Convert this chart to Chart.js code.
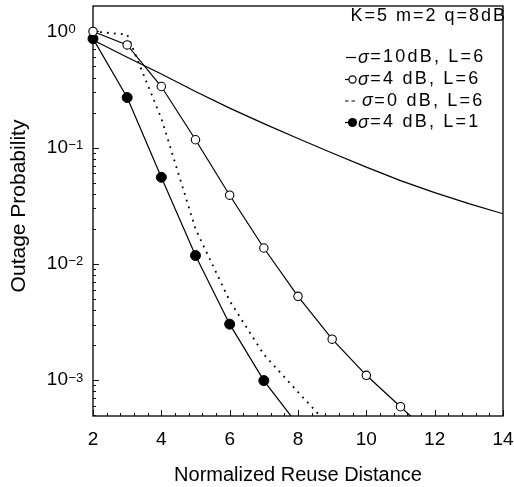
<!DOCTYPE html>
<html>
<head>
<meta charset="utf-8">
<script src="https://cdn.jsdelivr.net/npm/chart.js@4"></script>
<style>
  body { margin: 0; background: #fff; }
  #wrap { width: 514px; height: 487px; }
</style>
</head>
<body>
<div id="wrap"><canvas id="outage-chart" width="514" height="487"></canvas></div>
<script>
// normalized reuse distance (x) for every curve
const distance = [2, 3, 4, 5, 6, 7, 8, 9, 10, 11, 12, 13, 14];

// outage probability
const sigma10L6 = [0.845, 0.60, 0.43, 0.304, 0.219, 0.161, 0.12, 0.090, 0.068, 0.052, 0.041, 0.033, 0.027];
const sigma4L6 = [1.0, 0.766, 0.336, 0.117, 0.039, 0.0137, 0.00526, 0.00225, 0.0011, 0.00059, 0.000316];
const sigma0L6 = [1.0, 0.94, 0.179, 0.020, 0.0048, 0.00166, 0.00079, 0.00038];
const sigma4L1 = [0.867, 0.27, 0.0556, 0.0118, 0.00303, 0.00099, 0.00041];

// the last points of these curves sit below the axis, only the line reaches the edge
const visibleMarks4L6 = 10;
const visibleMarks4L1 = 6;

const xTickLabels = [2, 4, 6, 8, 10, 12, 14];
const yTickExponents = ["0", "-1", "-2", "-3"];

const headerText = "K=5 m=2 q=8dB";
const legendTexts = ["=10dB, L=6", "=4 dB, L=6", "=0 dB, L=6", "=4 dB, L=1"];

const FONT = '"Liberation Sans", Arial, Helvetica, sans-serif';

function toPoints(values) {
  return values.map((v, i) => ({ x: distance[i], y: v }));
}

function markRadius(values, shown, r) {
  return values.map((v, i) => (i < shown ? r : 0));
}

// box, inward ticks, tick labels, titles and the legend block
const paperAxes = {
  id: "paperAxes",
  beforeDatasetsDraw(chart) {
    const { ctx, chartArea: a, scales: { x, y } } = chart;
    ctx.save();
    ctx.strokeStyle = "#111";
    ctx.lineWidth = 1.4;
    ctx.strokeRect(a.left, a.top, a.right - a.left, a.bottom - a.top);

    ctx.lineWidth = 1;
    ctx.beginPath();
    for (let i = 0; i <= 30; i++) {
      const px = Math.round(x.getPixelForValue(2 + i * 0.4)) + 0.5;
      const len = i % 5 === 0 ? 6 : 3;
      ctx.moveTo(px, a.bottom);
      ctx.lineTo(px, a.bottom - len);
    }
    for (let d = -4; d <= 0; d++) {
      for (let k = 1; k <= 9; k++) {
        const v = k * Math.pow(10, d);
        if (v < y.min || v > y.max) continue;
        const py = Math.round(y.getPixelForValue(v)) + 0.5;
        const len = k === 1 ? 6 : 3;
        ctx.moveTo(a.left, py);
        ctx.lineTo(a.left + len, py);
      }
    }
    ctx.stroke();
    ctx.restore();
  },
  afterDraw(chart) {
    const { ctx, chartArea: a, scales: { x, y } } = chart;
    ctx.save();
    ctx.fillStyle = "#000";

    // x tick labels
    ctx.font = "19px " + FONT;
    ctx.textAlign = "center";
    ctx.textBaseline = "middle";
    xTickLabels.forEach((v) => {
      ctx.fillText(String(v), x.getPixelForValue(v), 440);
    });

    // y tick labels as 10 with a raised exponent
    yTickExponents.forEach((e) => {
      const ty = y.getPixelForValue(Math.pow(10, Number(e)));
      ctx.font = "19px " + FONT;
      ctx.textAlign = "right";
      ctx.textBaseline = "middle";
      ctx.fillText("10", 68, ty);
      ctx.font = "13px " + FONT;
      ctx.textAlign = "left";
      ctx.textBaseline = "alphabetic";
      ctx.fillText(e.replace("-", "\u2212"), 68.5, ty + 1.5);
    });

    // axis titles
    ctx.font = "20px " + FONT;
    ctx.textAlign = "center";
    ctx.textBaseline = "middle";
    ctx.fillText("Normalized Reuse Distance", (a.left + a.right) / 2, 475);
    ctx.save();
    ctx.translate(19, 206);
    ctx.rotate(-Math.PI / 2);
    ctx.font = "21px " + FONT;
    ctx.fillText("Outage Probability", 0, 0);
    ctx.restore();

    // legend block
    ctx.font = "18px " + FONT;
    ctx.letterSpacing = "2px";
    ctx.textAlign = "right";
    ctx.fillText(headerText, 507, 16);

    const rows = [57.5, 79.5, 101, 122.5];
    ctx.strokeStyle = "#000";
    ctx.lineWidth = 1.2;
    rows.forEach((ry, i) => {
      ctx.beginPath();
      if (i === 0) {
        ctx.moveTo(346, ry); ctx.lineTo(356, ry);
        ctx.stroke();
      } else if (i === 1) {
        ctx.moveTo(345, ry); ctx.lineTo(349, ry);
        ctx.stroke();
        ctx.beginPath();
        ctx.arc(352.5, ry, 3.6, 0, Math.PI * 2);
        ctx.fillStyle = "#fff"; ctx.fill();
        ctx.stroke();
        ctx.fillStyle = "#000";
      } else if (i === 2) {
        ctx.moveTo(345, ry); ctx.lineTo(348.5, ry);
        ctx.moveTo(351.5, ry); ctx.lineTo(355, ry);
        ctx.stroke();
      } else {
        ctx.moveTo(345, ry); ctx.lineTo(349, ry);
        ctx.stroke();
        ctx.beginPath();
        ctx.arc(352.5, ry, 4.6, 0, Math.PI * 2);
        ctx.fill();
      }
      ctx.textAlign = "left";
      ctx.letterSpacing = "0px";
      ctx.font = "italic 18px " + FONT;
      const sx = i === 2 ? 362 : 358;
      ctx.fillText("\u03c3", sx, ry);
      const w = ctx.measureText("\u03c3").width;
      ctx.font = "18px " + FONT;
      ctx.letterSpacing = "2.2px";
      ctx.fillText(legendTexts[i], sx + w + 1.5, ry);
    });
    ctx.restore();
  },
};

new Chart(document.querySelector("#outage-chart").getContext("2d"), {
  type: "line",
  data: {
    datasets: [
      {
        label: "sigma=10dB, L=6",
        data: toPoints(sigma10L6),
        borderColor: "#000",
        borderWidth: 1.2,
        pointRadius: 0,
        tension: 0,
      },
      {
        label: "sigma=4 dB, L=6",
        data: toPoints(sigma4L6),
        borderColor: "#000",
        borderWidth: 1.2,
        pointRadius: markRadius(sigma4L6, visibleMarks4L6, 4.2),
        pointBackgroundColor: "#fff",
        pointBorderColor: "#000",
        pointBorderWidth: 1.1,
        tension: 0,
      },
      {
        label: "sigma=0 dB, L=6",
        data: toPoints(sigma0L6),
        borderColor: "#000",
        borderWidth: 1.8,
        borderDash: [1.8, 5.2],
        pointRadius: 0,
        tension: 0,
      },
      {
        label: "sigma=4 dB, L=1",
        data: toPoints(sigma4L1),
        borderColor: "#000",
        borderWidth: 1.2,
        pointRadius: markRadius(sigma4L1, visibleMarks4L1, 5),
        pointBackgroundColor: "#000",
        pointBorderColor: "#000",
        pointBorderWidth: 1,
        tension: 0,
      },
    ],
  },
  options: {
    responsive: false,
    animation: false,
    devicePixelRatio: 1,
    clip: { left: 10, top: 10, right: 0, bottom: 0 },
    layout: { padding: { left: 93, top: 5, right: 11, bottom: 71 } },
    plugins: { legend: { display: false }, tooltip: { enabled: false } },
    scales: {
      x: {
        type: "linear",
        min: 2,
        max: 14,
        ticks: { display: false },
        grid: { display: false, drawTicks: false },
        border: { display: false },
      },
      y: {
        type: "logarithmic",
        min: 4.91e-4,
        max: 1.656,
        ticks: { display: false },
        grid: { display: false, drawTicks: false },
        border: { display: false },
      },
    },
  },
  plugins: [paperAxes],
});
</script>
</body>
</html>
